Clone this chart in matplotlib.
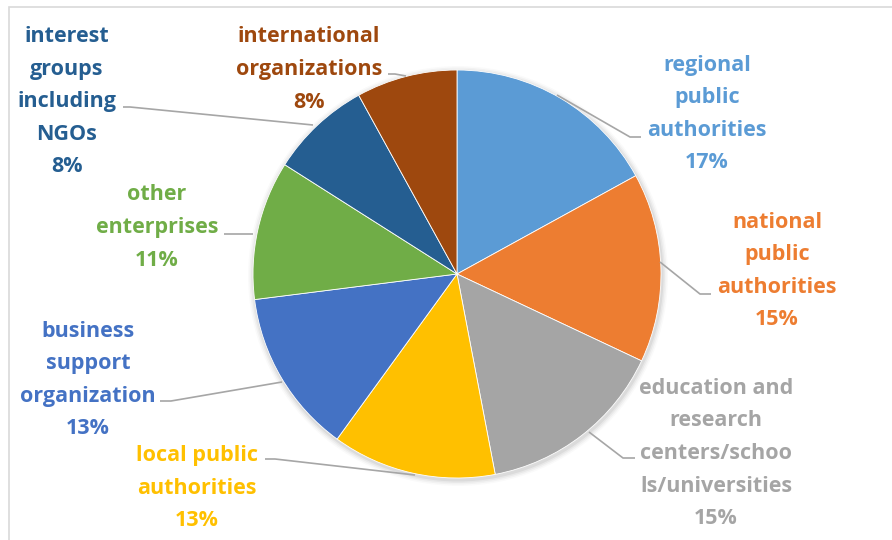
import matplotlib
matplotlib.use("Agg")
import matplotlib.pyplot as plt
from matplotlib.patches import Circle, Rectangle

# Share of partners by organization type (percent)
categories = [
    "regional\npublic\nauthorities",
    "national\npublic\nauthorities",
    "education and\nresearch\ncenters/schoo\nls/universities",
    "local public\nauthorities",
    "business\nsupport\norganization",
    "other\nenterprises",
    "interest\ngroups\nincluding\nNGOs",
    "international\norganizations",
]
shares = [17, 15, 15, 13, 13, 11, 8, 8]
colors = ["#5B9BD5", "#ED7D31", "#A5A5A5", "#FFC000",
          "#4472C4", "#70AD47", "#255E91", "#9E480E"]

W, H = 892, 540
CX, CY, R = 457, 274, 204

# label block centres (x, y of block centre), in pixel coordinates from top-left
label_pos = [
    (707, 114), (777, 271), (716, 453.5), (197, 488),
    (88, 380), (157, 227.5), (67, 101.5), (309, 69.5),
]
# leader line vertices, pixel coordinates from top-left
leaders = [
    [(557, 95), (630, 137), (641, 137)],
    [(660, 262), (700, 294), (711, 294)],
    [(589, 432), (623, 458), (635, 458)],
    [(415, 475), (275, 459), (265, 459)],
    [(282, 382), (171, 401), (160, 401)],
    [(253, 233.5), (224, 233.5)],
    [(313, 125), (130, 107), (123, 107)],
    [(406, 76), (395, 74), (388, 74)],
]

LINE_STEP = 32.5
FONT = "Open Sans"
FSIZE = 15.5

fig = plt.figure(figsize=(W / 100, H / 100), dpi=100)
ax = fig.add_axes([0, 0, 1, 1])
ax.set_xlim(0, W)
ax.set_ylim(0, H)
ax.set_aspect("equal")
ax.axis("off")

def fy(y):
    return H - y

# chart frame (open at right and bottom)
ax.add_patch(Rectangle((9, fy(560)), W + 20, 553, fill=False,
                       edgecolor="#D9D9D9", linewidth=1.2))

# soft shadow under the pie
for i, a in enumerate([0.05, 0.04, 0.03, 0.02]):
    ax.add_patch(Circle((CX + 1, fy(CY) - 2), R + 1.5 + i * 1.5,
                        facecolor="#000000", alpha=a, edgecolor="none"))

ax.pie(shares, colors=colors, startangle=90, counterclock=False,
       center=(CX, fy(CY)), radius=R, frame=True,
       wedgeprops=dict(edgecolor="white", linewidth=0.6))
ax.set_xlim(0, W)
ax.set_ylim(0, H)
ax.axis("off")

for pts in leaders:
    xs = [p[0] for p in pts]
    ys = [fy(p[1]) for p in pts]
    ax.plot(xs, ys, color="#A6A6A6", linewidth=1.2, solid_capstyle="butt")

for name, val, col, (lx, ly) in zip(categories, shares, colors, label_pos):
    lines = name.split("\n") + [f"{val}%"]
    n = len(lines)
    for k, line in enumerate(lines):
        y = ly + (k - (n - 1) / 2) * LINE_STEP
        ax.text(lx, fy(y), line, ha="center", va="center", color=col,
                fontsize=FSIZE, fontweight="bold", family=FONT)

fig.savefig("out.png", dpi=100)
